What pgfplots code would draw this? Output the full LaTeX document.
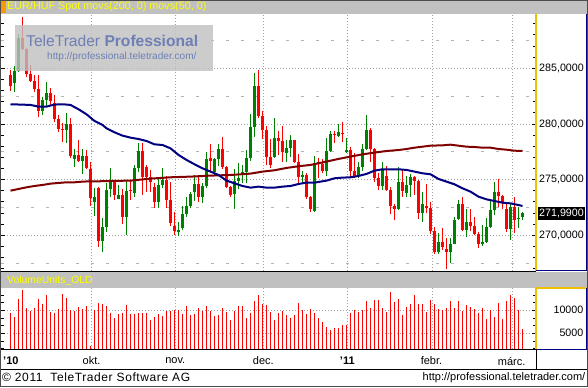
\documentclass[border=0pt]{standalone}
\usepackage{fontspec}
\setmainfont{Liberation Sans}
\usepackage{pgfplots}
\usepackage{pgfplotstable}
\pgfplotsset{compat=1.18}

\definecolor{barGray}{HTML}{C0C0C0}
\definecolor{titleYellow}{HTML}{FFFF00}
\definecolor{upgreen}{HTML}{008000}
\definecolor{dnred}{HTML}{FF0000}
\definecolor{maBlue}{HTML}{000080}
\definecolor{maRed}{HTML}{800000}
\definecolor{gridgray}{HTML}{A0A0A0}
\definecolor{dashgray}{HTML}{B4B4B4}
\definecolor{wmText}{HTML}{6E7FB5}
\definecolor{axisYellow}{HTML}{F0C000}
\definecolor{tabOrange}{HTML}{F89B00}

\pgfplotstableread{
k O H L C
1 283.65 285.21 282.90 284.76
2 284.76 288.08 284.64 287.69
8 281.20 282.46 280.81 282.16
9 282.16 283.80 281.56 282.75
14 279.46 281.02 278.32 280.00
16 276.83 277.72 276.17 277.22
18 276.71 277.72 275.48 277.13
21 273.02 274.22 271.77 273.41
23 269.52 271.59 268.47 270.78
24 270.78 274.67 270.33 274.07
25 274.16 276.08 273.47 274.82
27 273.26 274.52 273.23 273.62
29 271.68 274.97 270.03 273.98
31 273.77 276.32 273.47 276.02
32 276.02 278.26 275.72 277.57
37 273.02 275.12 272.43 274.52
38 274.52 276.02 274.22 275.00
42 270.39 271.23 269.97 270.45
43 270.63 272.63 270.48 271.92
44 271.92 273.47 271.62 272.63
45 272.63 273.92 272.43 273.71
46 273.92 275.42 273.11 274.64
48 273.47 274.67 272.93 274.43
49 274.43 277.52 274.22 276.86
51 275.72 276.98 275.36 276.86
52 276.86 278.17 276.26 277.75
56 273.71 275.96 272.37 274.91
57 274.91 276.47 274.16 275.18
58 275.54 276.32 274.67 275.72
59 275.72 277.66 274.67 276.92
60 276.92 280.90 276.71 279.76
61 279.76 284.61 278.86 283.41
66 277.07 280.57 276.92 278.71
69 277.43 278.56 276.62 277.87
70 277.87 279.01 277.07 278.56
73 275.24 275.78 274.67 275.42
76 272.19 277.16 272.13 276.41
79 275.81 278.71 275.36 277.57
80 277.57 279.37 277.52 279.10
82 278.95 279.97 278.86 279.25
84 277.46 278.71 277.37 277.66
87 275.36 276.62 275.12 276.11
88 276.11 278.20 275.78 277.75
89 277.75 280.81 277.66 279.46
93 274.46 276.62 274.07 275.87
97 272.37 276.11 272.28 274.82
99 273.83 275.33 273.47 274.52
100 274.52 275.48 273.47 275.27
103 272.04 273.92 271.23 272.81
107 268.53 270.18 268.29 269.37
110 268.53 269.79 267.49 269.25
111 269.25 271.68 269.22 271.38
112 271.47 273.17 271.38 272.81
114 270.48 272.37 269.88 271.17
118 269.22 270.93 269.07 269.37
119 269.37 271.53 269.28 270.72
120 270.72 273.17 270.63 272.28
121 272.28 274.82 271.83 273.92
125 270.57 272.78 269.58 272.57
127 271.47 272.57 270.69 271.59
128 271.68 272.13 271.38 271.99
}\greentab

\pgfplotstableread{
k O H L C
0 284.40 284.85 282.96 283.44
3 287.69 289.64 286.65 286.74
4 286.74 286.80 284.25 284.49
5 284.49 285.30 283.80 283.89
6 283.89 284.40 282.84 283.14
7 283.14 284.40 280.60 281.20
10 282.75 283.26 281.65 282.10
11 281.86 282.60 280.21 280.45
12 280.45 280.81 279.25 279.55
13 279.55 280.06 278.41 279.49
15 280.00 280.51 276.98 277.13
17 277.22 278.56 276.62 276.71
19 277.13 277.66 275.96 276.02
20 275.96 276.62 272.66 273.32
22 274.22 274.30 268.98 269.52
26 274.82 274.90 273.17 273.62
28 273.62 274.16 270.99 271.68
30 274.07 274.88 273.17 274.01
33 277.57 278.26 273.62 275.27
34 276.14 276.32 273.92 275.27
35 275.21 275.87 273.92 274.76
36 274.34 274.67 272.49 273.02
39 275.00 275.33 272.43 273.17
40 273.17 274.82 270.87 271.08
41 270.87 272.07 270.03 270.39
47 274.61 275.42 273.02 273.47
50 276.92 278.23 275.72 276.71
53 277.75 278.83 275.96 276.17
54 276.14 276.20 274.22 274.37
55 274.37 274.40 273.47 273.62
62 283.41 284.85 280.57 280.75
63 280.75 281.17 278.65 279.46
64 279.46 279.82 276.32 277.07
65 277.07 278.65 276.02 276.32
67 278.71 279.37 277.22 278.47
68 278.47 279.82 276.62 277.46
71 278.56 278.60 276.53 276.59
72 276.59 277.31 274.67 275.27
74 275.42 275.60 273.26 273.47
75 273.47 273.50 272.13 272.37
77 276.62 276.92 275.12 276.41
78 276.41 276.86 275.57 275.81
81 279.10 279.37 278.32 279.01
83 279.19 280.15 278.41 279.13
85 277.66 277.96 275.12 275.81
86 275.81 277.37 275.18 275.36
90 279.46 279.61 276.62 277.75
91 277.75 277.87 274.82 275.18
92 275.18 275.57 274.07 274.46
94 275.36 276.26 273.98 274.07
95 274.07 274.37 271.92 272.66
96 272.66 272.78 271.38 272.37
98 274.82 275.87 273.47 273.98
101 275.27 275.36 273.62 274.91
102 274.91 274.97 271.47 272.04
104 272.63 274.58 272.04 272.49
105 272.49 273.02 270.15 270.39
106 270.39 270.75 268.29 268.53
108 269.37 270.63 268.68 268.98
109 268.77 269.73 266.97 268.53
113 272.81 273.47 270.39 270.48
115 271.17 272.37 270.39 270.87
116 270.87 271.68 270.03 270.12
117 270.12 270.27 268.89 269.22
122 273.92 275.06 272.57 273.53
123 273.53 273.62 272.37 273.02
124 272.37 273.02 270.33 270.57
126 272.57 273.44 270.18 271.38
}\redtab

\pgfplotstableread{
k v
0 281.77
5 281.71
7 281.56
9 281.56
11 281.74
13 281.77
15 281.71
17 281.32
19 280.87
21 280.27
23 279.91
24 279.61
26 279.25
28 278.95
30 278.77
32 278.65
34 278.47
36 278.17
38 278.11
40 277.81
42 277.22
44 276.77
46 276.38
48 276.02
50 275.72
52 275.42
54 274.91
56 274.67
58 274.43
60 274.28
62 274.37
64 274.28
66 274.28
68 274.37
70 274.43
72 274.61
74 274.73
76 274.73
77 274.79
79 274.91
81 275.12
83 275.18
85 275.21
87 275.33
89 275.51
91 275.81
93 275.93
95 275.93
97 275.93
99 275.87
101 275.72
103 275.57
105 275.48
107 275.06
109 274.82
111 274.58
113 274.22
115 273.92
117 273.47
119 273.23
121 273.08
123 272.93
125 272.87
127 272.72
128 272.63
}\bluetab

\pgfplotstableread{
k v
0 274.01
2 274.16
4 274.31
6 274.43
8 274.52
10 274.64
12 274.70
14 274.76
16 274.76
18 274.82
20 274.85
22 274.85
25 274.88
30 274.91
35 275.09
40 275.21
45 275.27
50 275.36
55 275.42
60 275.54
63 275.72
66 275.84
69 276.05
72 276.20
75 276.32
77 276.47
79 276.62
82 276.86
85 277.07
88 277.27
91 277.43
94 277.57
97 277.66
99 277.75
101 277.87
103 277.96
105 278.05
108 278.08
110 278.14
112 278.05
114 277.96
116 277.93
118 277.87
120 277.87
122 277.75
124 277.69
126 277.60
128 277.57
}\maredtab

\pgfplotstableread{
k v
0 9420
1 8550
2 12460
3 14420
4 10510
5 9860
6 10510
7 12460
8 11380
9 13330
10 9640
11 9420
12 10290
13 13550
14 12680
15 10070
16 9860
17 10720
18 10290
19 10940
20 2250
21 10070
22 11590
23 11380
24 10940
25 9420
26 8330
27 9200
28 9420
29 11160
30 9200
31 9200
32 9420
33 9420
34 9420
35 7900
36 8550
37 9200
38 8770
39 9860
40 9860
41 10070
42 10070
43 9200
44 10940
45 8990
46 9200
47 10510
48 9860
49 10940
50 9860
51 8770
52 8990
53 10510
54 9640
55 7900
56 9860
57 10940
58 10940
59 8330
60 9420
61 12030
62 13330
63 11380
64 11160
65 9640
66 7900
67 9420
68 9860
69 8990
70 8330
71 8990
72 11590
73 10140
74 9290
75 10360
76 9500
77 8360
78 7500
79 6430
80 5710
81 6220
82 6070
83 6790
84 6900
85 9430
86 10000
87 9640
88 10000
89 11930
90 10570
91 12140
92 12290
93 10500
94 9640
95 13930
96 11790
97 12360
98 8930
99 10710
100 11430
101 13430
102 11430
103 11430
104 9640
105 12290
106 11430
107 10360
108 10000
109 10500
110 11930
111 10500
112 11930
113 9790
114 11210
115 10710
116 10360
117 9500
118 10570
119 8210
120 10140
121 8570
122 11500
123 8210
124 11930
125 13430
126 12640
127 10000
128 5930
}\voltab

\pgfplotsset{
  chartbase/.style={
    anchor=south west, scale only axis, width=534.5bp,
    xmin=-2.375, xmax=131.25,
    axis line style={draw=none},
    xtick={20.25,41.25,63.25,84.25,105.35,125.35},
    xticklabels={}, xtick style={draw=none},
    yticklabels={}, scaled y ticks=false,
    xmajorgrids, ymajorgrids,
    major grid style={dash pattern=on 1bp off 2bp, color=gridgray, line width=0.8bp},
    tick align=inside,
    major tick length=4bp, minor tick length=2.7bp,
    ytick style={black, line width=0.9bp},
    minor tick style={black, line width=0.9bp},
  },
  wick/.style={draw=none, mark=none, forget plot,
    error bars/.cd, y dir=both, y explicit, error mark=none,
    error bar style={line width=1bp, draw=#1, solid}},
  body/.style={draw=none, mark=none, forget plot,
    error bars/.cd, y dir=both, y explicit, error mark=none,
    error bar style={line width=3bp, draw=#1, solid}},
}

\begin{document}
\begin{tikzpicture}[x=1bp,y=1bp]
\useasboundingbox (0,0) rectangle (588,387);
\fill[white] (0,0) rectangle (588,387);
% top title bar
\fill[barGray] (0,373) rectangle (588,387);
\fill[tabOrange] (0,374) rectangle (6,386);
\node[anchor=west, inner sep=0, text=titleYellow, font=\fontsize{10.8bp}{12bp}\selectfont] at (7,380) {EUR/HUF Spot movs(200, 0) movs(50, 0)};

% main price axis
\begin{axis}[chartbase, at={(1bp,116bp)}, height=257bp,
  ymin=266.793, ymax=289.877,
  ytick={270,275,280,285},
  minor ytick={267,268,...,289},
  extra y ticks={267.5,272.5,277.5,282.5,287.5},
  extra y tick labels={},
  extra y tick style={grid=major, major tick length=0pt,
    major grid style={dash pattern=on 3.3bp off 11.7bp, color=dashgray, line width=0.8bp}},
]
\addplot[wick=upgreen] table[x=k, y expr={(\thisrow{H}+\thisrow{L})/2}, y error expr={(\thisrow{H}-\thisrow{L})/2}] \greentab;
\addplot[wick=dnred] table[x=k, y expr={(\thisrow{H}+\thisrow{L})/2}, y error expr={(\thisrow{H}-\thisrow{L})/2}] \redtab;
\addplot[body=upgreen] table[x=k, y expr={(\thisrow{O}+\thisrow{C})/2}, y error expr={max(abs(\thisrow{O}-\thisrow{C})/2,0.05)}] \greentab;
\addplot[body=dnred] table[x=k, y expr={(\thisrow{O}+\thisrow{C})/2}, y error expr={max(abs(\thisrow{O}-\thisrow{C})/2,0.05)}] \redtab;
\addplot[no marks, color=maRed, line width=2bp] table[x=k, y=v] \maredtab;
\addplot[no marks, color=maBlue, line width=2bp] table[x=k, y=v] \bluetab;
\end{axis}

% watermark
\fill[barGray, opacity=0.8] (15,316) rectangle (213,362);
\node[anchor=base west, inner sep=0, text=wmText, font=\fontsize{15.6bp}{17bp}\selectfont] at (26,341) {TeleTrader \textbf{Professional}};
\node[anchor=west, inner sep=0, text=wmText, font=\fontsize{10.1bp}{12bp}\selectfont] at (47,330) {http://professional.teletrader.com/};

% volume title bar
\fill[barGray] (0,99) rectangle (588,114.6);
\node[anchor=west, inner sep=0, text=titleYellow, font=\fontsize{10.4bp}{12bp}\selectfont] at (7,106.5) {VolumeUnits\_OLD};

% volume axis
\begin{axis}[chartbase, at={(1bp,38bp)}, height=61bp,
  ymin=1590, ymax=14850,
  ytick={5000,10000},
  minor ytick={1667,3333,6667,8333,11667,13333},
]
\addplot[ycomb, mark=none, draw=dnred, line width=1.1bp] table[x=k, y=v] \voltab;
\end{axis}

% frame lines
\draw[black, line width=1.2bp] (0,115.6) -- (536,115.6);
\draw[black, line width=1.6bp] (0,37.4) -- (536,37.4);
\draw[black, line width=1bp] (0,18) -- (588,18);
\draw[black, line width=1bp] (536,18) -- (536,37);
\draw[axisYellow, line width=1.2bp] (536,116) -- (536,373);
\draw[axisYellow, line width=1.2bp] (536,38) -- (536,99) -- (586,99);
\draw[maBlue, line width=1.2bp] (536,116.2) -- (586.6,116.2) -- (586.6,373);
\draw[maBlue, line width=1.2bp] (536,37.6) -- (586.6,37.6) -- (586.6,99);

% price labels
\begin{scope}[every node/.style={anchor=west, inner sep=0, font=\fontsize{10.7bp}{12bp}\selectfont}]
\node at (539,318.7) {285,0000};
\node at (539,263.0) {280,0000};
\node at (539,207.4) {275,0000};
\node at (539,151.7) {270,0000};
\fill[black] (537.5,167) rectangle (585,180.5);
\node[text=white] at (539,173.9) {271,9900};
\end{scope}
\begin{scope}[every node/.style={anchor=east, inner sep=0, font=\fontsize{10.7bp}{12bp}\selectfont}]
\node at (583.5,76.7) {10000};
\node at (583.5,53.7) {5000};
\end{scope}

% month labels
\begin{scope}[every node/.style={inner sep=0, font=\fontsize{11bp}{13bp}\selectfont}]
\node[anchor=west] at (3,26) {\textbf{’10}};
\node at (91.5,26) {okt.};
\node at (175.3,26) {nov.};
\node at (263.3,26) {dec.};
\node at (347.3,26) {\textbf{’11}};
\node at (431.5,26) {febr.};
\node at (511.7,26) {márc.};
\end{scope}

% footer
\node[anchor=west, inner sep=0, font=\fontsize{12bp}{13bp}\selectfont\addfontfeature{LetterSpace=5}] at (2,9.5) {© 2011~ TeleTrader Software AG};
\node[anchor=east, inner sep=0, font=\fontsize{11bp}{13bp}\selectfont] at (585.5,9.5) {http://professional.teletrader.com/};

\draw[black!70, line width=1bp] (0.5,0.5) rectangle (587.5,386.5);
\end{tikzpicture}
\end{document}
